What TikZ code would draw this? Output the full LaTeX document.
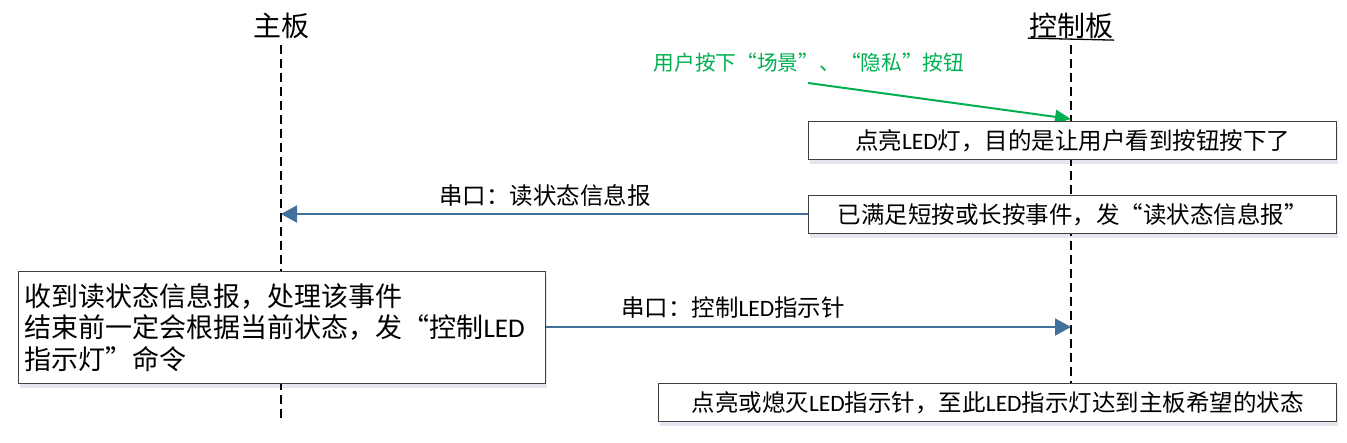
\documentclass[tikz,border=0pt]{standalone}
\usepackage{fontspec}
\setmainfont{Noto Sans CJK SC}
\newfontfamily\latinf{Carlito}
\newcommand\ledtxt{{\latinf LED}}
\usetikzlibrary{arrows.meta,shadows}
\definecolor{msgblue}{RGB}{65,113,156}
\definecolor{usergreen}{RGB}{0,176,80}
\definecolor{boxline}{RGB}{64,64,64}
\tikzset{
  heading/.style={inner sep=0pt, font=\fontsize{28}{30}\selectfont},
  lifeline/.style={line width=1.3pt, dash pattern=on 9pt off 5pt},
  msgbox/.style={draw=boxline, line width=1.3pt, fill=white, inner sep=0pt,
    font=\fontsize{23.5}{31}\selectfont,
    drop shadow={shadow xshift=1pt, shadow yshift=-4pt, opacity=0.10, fill=blue!40!black}},
  msglabel/.style={inner sep=0pt, font=\fontsize{23.5}{31}\selectfont},
  msgarrow/.style={draw=msgblue, line width=2pt, -{Triangle[length=16pt,width=17pt]}, shorten >=0pt},
  userarrow/.style={draw=usergreen, line width=2pt, -{Triangle[length=16pt,width=14pt]}},
}
\begin{document}
\begin{tikzpicture}[x=1pt,y=-1pt]
\useasboundingbox (0,0) rectangle (1347,443);
% headings
\node[heading] (mainT) at (281,26) {主板};
\node[heading] (ctrlT) at (1071,26) {控制板};
\draw[line width=1.3pt] ([xshift=-1pt]ctrlT.south west) ++(0,-1) coordinate (ulA) -- ([xshift=1pt,yshift=-1pt]ctrlT.south east) coordinate (ulB);
% lifelines
\coordinate (mainTop) at (281,45);
\coordinate (mainBot) at (281,421);
\coordinate (ctrlTop) at (1071,45);
\coordinate (ctrlBot) at (1071,421);
\draw[lifeline] (mainTop) -- (mainBot);
\draw[lifeline] (ctrlTop) -- (ctrlBot);
% user action
\node[inner sep=0pt, text=usergreen, font=\fontsize{20.7}{24}\selectfont] (gl) at (809,63) {用户按下“场景”、“隐私”按钮};
\coordinate (gs) at (808,83);
\coordinate (ge) at (1071,119);
\draw[userarrow] (gs) -- (ge);
% boxes
\node[msgbox, anchor=north west, minimum width=528pt, minimum height=38pt] (box1) at (808,121) {点亮\ledtxt 灯，目的是让用户看到按钮按下了};
\node[msgbox, anchor=north west, minimum width=528pt, minimum height=38pt] (box2) at (808,195) {已满足短按或长按事件，发“读状态信息报”};
\node[msgbox, anchor=north west, minimum width=527pt, minimum height=112pt, align=left, text width=515pt, inner xsep=6pt, font=\fontsize{27}{31.5}\selectfont] (box3) at (18,271) {收到读状态信息报，处理该事件\\结束前一定会根据当前状态，发“控制\ledtxt\\指示灯”命令};
\node[msgbox, anchor=north west, minimum width=678pt, minimum height=38pt] (box4) at (658,383) {点亮或熄灭\ledtxt 指示针，至此\ledtxt 指示灯达到主板希望的状态};
% messages
\coordinate (m1e) at (281,214);
\draw[msgarrow] (box2.west |- m1e) -- (m1e);
\node[msglabel] (l1) at (545,196) {串口：读状态信息报};
\coordinate (m2e) at (1071,327);
\draw[msgarrow] (box3.east |- m2e) -- (m2e);
\node[msglabel] (l2) at (733,308) {串口：控制\ledtxt 指示针};
\end{tikzpicture}
\end{document}
